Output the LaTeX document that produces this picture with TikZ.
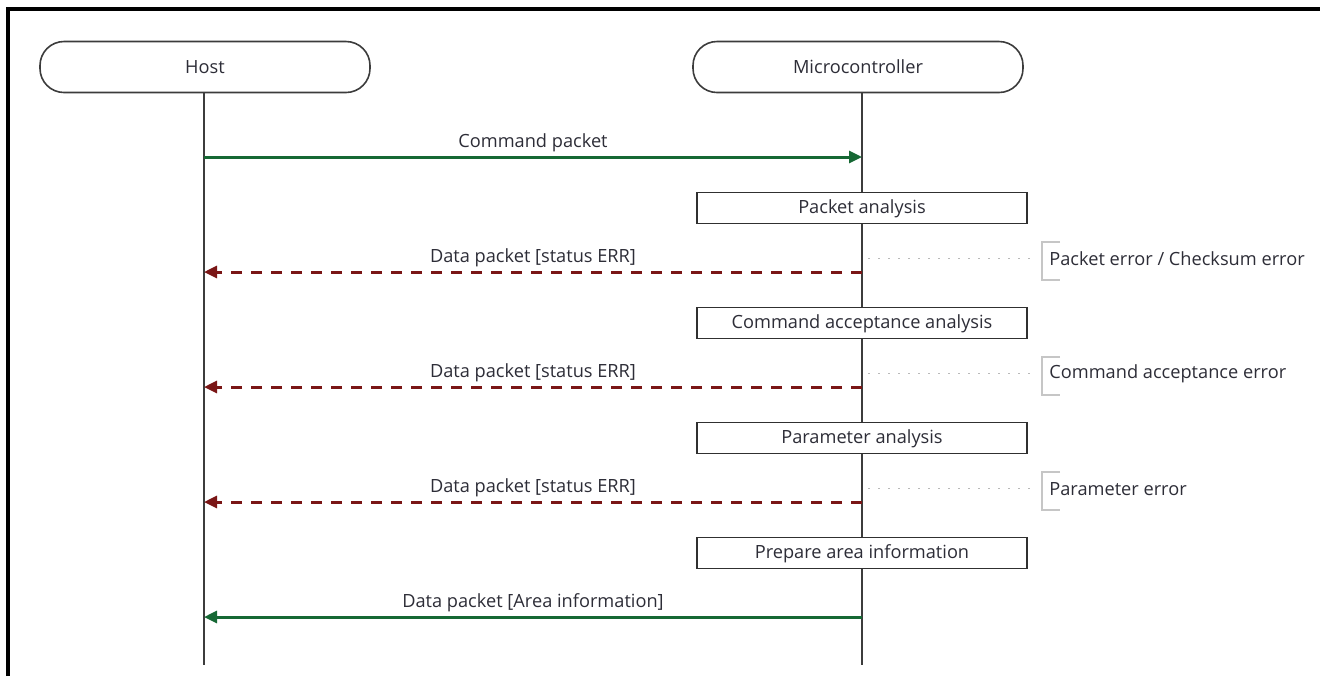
\documentclass[tikz,border=0pt]{standalone}
\usepackage{fontspec}
\setmainfont{Open Sans}
\usetikzlibrary{arrows.meta}
\definecolor{msggreen}{RGB}{22,104,52}
\definecolor{errred}{RGB}{122,22,22}
\definecolor{linegray}{RGB}{60,60,60}
\definecolor{txtgray}{RGB}{45,45,55}
\begin{document}
\begin{tikzpicture}[x=0.5pt, y=-0.5pt,
    font=\fontsize{9.1}{11}\selectfont\color{txtgray},
    actor/.style={draw=linegray, line width=0.8pt, rounded corners=12pt, minimum width=165pt, minimum height=25.5pt, inner sep=0pt, fill=white},
    procbox/.style={draw=linegray!80!black, line width=0.8pt, minimum width=165pt, minimum height=15.5pt, inner sep=0pt, text height=0.72em, text depth=0.2em, fill=white},
    lifeline/.style={draw=linegray, line width=0.8pt},
    okmsg/.style={draw=msggreen, line width=1.5pt, -{Triangle[length=6.5pt,width=6pt]}},
    errmsg/.style={draw=errred, line width=1.5pt, dash pattern=on 5.5pt off 4.5pt, -{Triangle[length=6.5pt,width=6pt]}},
    msglabel/.style={above=-1.5pt},
    hint/.style={draw=gray!55, line width=0.5pt, dash pattern=on 1pt off 4pt},
    bracket/.style={draw=gray!45, line width=0.6pt},
    notetxt/.style={anchor=west, inner sep=0pt}]
    \useasboundingbox (0,0) rectangle (1320,676);

    % frame
    \draw[line width=1.6pt] (8,676) -- (8,9) -- (1320,9);

    % participants
    \node[actor] (host) at (205,67) {Host};
    \node[actor] (mcu)  at (858,67) {Microcontroller};
    \coordinate (hostEnd) at (204,665);
    \coordinate (mcuEnd)  at (862,665);
    \draw[lifeline] (host.south -| hostEnd) -- (hostEnd);
    \draw[lifeline] (mcu.south -| mcuEnd) -- (mcuEnd);

    % command
    \coordinate (h1) at (204,157);
    \coordinate (m1) at (862,157);
    \draw[okmsg] (h1) -- node[msglabel] {Command packet} (m1);

    % packet analysis
    \node[procbox] (pa) at (862,208) {Packet analysis};
    \coordinate (h2) at (204,272);
    \coordinate (m2) at (862,272);
    \draw[errmsg] (m2) -- node[msglabel] {Data packet [status ERR]} (h2);
    \coordinate (d2) at (868,258);
    \coordinate (b2) at (1034,258);
    \draw[hint] (d2) -- (b2);
    \draw[bracket] (1060,242) -- (1042,242) -- (1042,280) -- (1060,280);
    \node[notetxt] (n2) at (1049,259) {Packet error / Checksum error};

    % command acceptance analysis
    \node[procbox] (ca) at (862,323) {Command acceptance analysis};
    \coordinate (h3) at (204,387);
    \coordinate (m3) at (862,387);
    \draw[errmsg] (m3) -- node[msglabel] {Data packet [status ERR]} (h3);
    \coordinate (d3) at (868,373);
    \coordinate (b3) at (1034,373);
    \draw[hint] (d3) -- (b3);
    \draw[bracket] (1060,357) -- (1042,357) -- (1042,395) -- (1060,395);
    \node[notetxt] (n3) at (1049,374) {Command acceptance error};

    % parameter analysis
    \node[procbox] (pm) at (862,438) {Parameter analysis};
    \coordinate (h4) at (204,502);
    \coordinate (m4) at (862,502);
    \draw[errmsg] (m4) -- node[msglabel] {Data packet [status ERR]} (h4);
    \coordinate (d4) at (868,488);
    \coordinate (b4) at (1034,488);
    \draw[hint] (d4) -- (b4);
    \draw[bracket] (1060,472) -- (1042,472) -- (1042,510) -- (1060,510);
    \node[notetxt] (n4) at (1049,489) {Parameter error};

    % area information
    \node[procbox] (ai) at (862,553) {Prepare area information};
    \coordinate (h5) at (204,617);
    \coordinate (m5) at (862,617);
    \draw[okmsg] (m5) -- node[msglabel] {Data packet [Area information]} (h5);
\end{tikzpicture}
\end{document}
